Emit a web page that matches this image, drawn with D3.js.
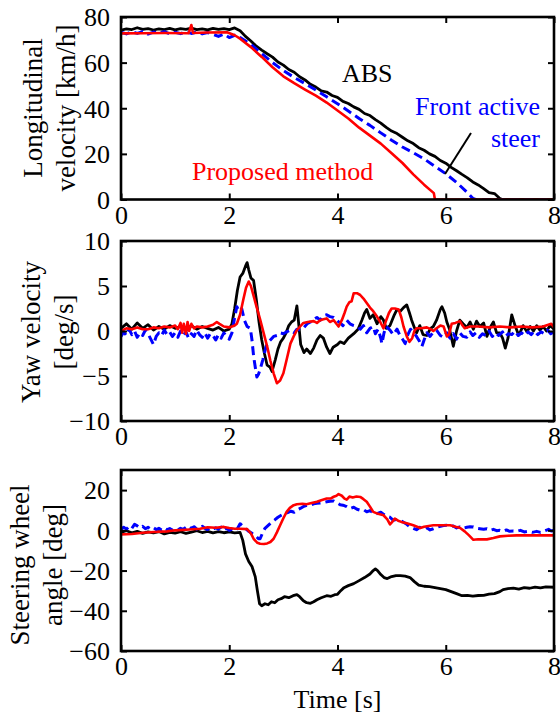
<!DOCTYPE html>
<html>
<head>
<meta charset="utf-8">
<script src="https://cdn.jsdelivr.net/npm/d3@7/dist/d3.min.js"></script>
<style>
  html, body { margin: 0; padding: 0; background: #fff; }
  svg { display: block; font-family: "Liberation Serif", "Times New Roman", serif; }
</style>
</head>
<body>
<svg id="chart" width="560" height="717"></svg>
<script>
// ---------------- DATA ----------------
const timeTicks = [0, 2, 4, 6, 8];
const velTicks = [0, 20, 40, 60, 80];
const yawTicks = [-10, -5, 0, 5, 10];
const steerTicks = [-60, -40, -20, 0, 20];

const seriesNames = ["ABS", "Front active steer", "Proposed method"];

// Longitudinal velocity [km/h]  ([t, v])
const velABS = [[0,74.2],[0.1,74.8],[0.2,74.5],[0.3,75.3],[0.4,74.6],[0.5,74.9],[0.6,74.3],[0.7,74.8],[0.8,74.5],[0.9,75.0],[1.0,74.4],[1.1,74.9],[1.2,74.6],[1.3,75.1],[1.4,74.5],[1.5,74.8],[1.6,74.4],[1.7,75.0],[1.8,74.6],[1.9,74.9],[2.0,74.5],[2.1,75.2],[2.2,74.0],[2.3,71.5],[2.4,69.5],[2.5,67.2],[2.6,65.5],[2.7,63.9],[2.8,62.4],[2.9,60.3],[3.0,58.9],[3.1,57.0],[3.2,55.8],[3.3,53.8],[3.4,52.4],[3.5,50.5],[3.6,49.3],[3.7,47.6],[3.8,47.1],[3.9,45.6],[4.0,44.8],[4.1,43.0],[4.2,42.1],[4.3,40.6],[4.4,39.5],[4.5,37.7],[4.6,36.8],[4.7,35.0],[4.8,33.5],[4.9,31.6],[5.0,30.0],[5.1,28.9],[5.2,27.3],[5.3,25.7],[5.4,24.5],[5.5,22.7],[5.6,21.6],[5.7,20.0],[5.8,18.9],[5.9,17.1],[6.0,15.9],[6.1,14.1],[6.2,12.6],[6.3,11.0],[6.4,9.5],[6.5,7.7],[6.6,6.4],[6.7,4.8],[6.8,3.0],[6.9,2.6],[7.0,0.4],[7.05,0],[8,0]];
const velFAS = [[0,73.3],[0.1,72.6],[0.2,73.5],[0.3,72.8],[0.4,73.6],[0.5,72.5],[0.6,73.4],[0.7,72.9],[0.8,73.6],[0.9,72.6],[1.0,73.3],[1.1,72.7],[1.2,73.5],[1.3,72.8],[1.4,73.4],[1.5,72.6],[1.6,73.2],[1.7,72.4],[1.8,71.5],[1.9,72.5],[2.0,71.0],[2.1,72.0],[2.2,71.0],[2.4,68.0],[2.6,64.0],[2.8,60.0],[3.0,56.5],[3.2,53.5],[3.4,50.8],[3.6,48.0],[3.8,45.0],[4.0,42.0],[4.2,38.8],[4.4,35.5],[4.6,32.5],[4.8,29.2],[5.0,26.0],[5.2,23.0],[5.4,20.5],[5.6,17.8],[5.8,14.5],[6.0,11.3],[6.2,7.5],[6.4,3.0],[6.5,0.5],[6.55,0],[8,0]];
const velProp = [[0,72.8],[0.4,72.9],[0.8,73.0],[1.25,72.9],[1.3,76.5],[1.33,73.0],[1.6,73.2],[1.96,73.3],[2.1,72.0],[2.2,70.5],[2.4,66.8],[2.6,62.5],[2.8,58.0],[3.0,54.0],[3.2,51.0],[3.4,48.2],[3.6,45.5],[3.8,42.5],[4.0,39.0],[4.2,35.5],[4.4,31.5],[4.6,28.0],[4.8,24.5],[5.0,20.3],[5.2,16.0],[5.4,11.0],[5.6,6.5],[5.78,2.8],[5.8,0],[8,0]];

// Yaw velocity [deg/s]
const yawABS = [[0,0.3],[0.1,0.8],[0.2,0.2],[0.3,0.9],[0.4,0.3],[0.5,0.7],[0.6,0.1],[0.7,0.5],[0.8,0.2],[0.9,0.6],[1.0,0.3],[1.1,0.5],[1.2,0.1],[1.3,0.6],[1.4,0.2],[1.5,0.5],[1.6,0.3],[1.7,0.1],[1.8,0.4],[1.9,0.0],[2.0,0.2],[2.05,0.8],[2.1,2.5],[2.15,4.5],[2.2,6.0],[2.25,6.4],[2.3,7.2],[2.33,7.6],[2.36,6.8],[2.4,5.9],[2.45,5.6],[2.5,3.5],[2.55,1.0],[2.6,-1.0],[2.65,-2.5],[2.7,-3.8],[2.75,-4.0],[2.79,-4.5],[2.85,-3.2],[2.9,-2.0],[2.95,-1.2],[3.0,-0.8],[3.05,-0.2],[3.1,0.6],[3.15,1.0],[3.2,1.2],[3.25,2.8],[3.28,1.0],[3.32,-1.5],[3.38,-2.4],[3.43,-2.0],[3.5,-2.5],[3.56,-1.9],[3.62,-1.0],[3.68,-0.5],[3.74,-0.8],[3.8,-1.8],[3.86,-2.5],[3.92,-1.8],[4.0,-1.5],[4.05,-1.2],[4.12,-1.4],[4.2,-0.8],[4.3,-0.3],[4.38,0.2],[4.45,1.2],[4.5,2.0],[4.54,2.4],[4.6,1.4],[4.66,1.8],[4.73,0.8],[4.8,1.6],[4.85,1.2],[4.9,0.3],[4.97,0.6],[5.05,1.8],[5.1,2.4],[5.16,2.2],[5.22,2.6],[5.28,2.9],[5.33,2.0],[5.37,1.2],[5.42,0.4],[5.46,-0.2],[5.52,0.6],[5.58,-0.4],[5.65,-0.5],[5.72,0.3],[5.77,0.5],[5.83,1.2],[5.9,2.4],[5.93,2.7],[5.98,2.0],[6.02,1.0],[6.07,0.2],[6.14,-1.7],[6.2,0.0],[6.26,1.2],[6.32,0.8],[6.39,0.4],[6.45,1.0],[6.51,0.2],[6.57,1.1],[6.63,0.5],[6.7,0.9],[6.76,-0.6],[6.82,0.4],[6.88,1.0],[6.94,-0.2],[7.0,-0.2],[7.05,-0.8],[7.1,-1.9],[7.15,-0.8],[7.22,1.8],[7.28,0.6],[7.33,-0.2],[7.37,-0.2],[7.43,0.6],[7.5,-0.1],[7.56,0.5],[7.62,0.0],[7.68,0.6],[7.74,0.1],[7.8,0.5],[7.86,0.0],[7.93,0.6],[8,0.2]];
const yawFAS = [[0,-0.6],[0.05,-0.1],[0.1,-0.5],[0.15,0.2],[0.2,-0.4],[0.25,0.0],[0.3,-0.7],[0.35,-0.2],[0.4,-0.5],[0.45,0.1],[0.5,-0.3],[0.55,-0.9],[0.6,-1.5],[0.65,-0.6],[0.7,-0.2],[0.75,-0.5],[0.8,0.1],[0.85,-0.4],[0.9,-0.1],[0.95,-0.6],[1.0,-0.2],[1.05,-0.7],[1.1,0.0],[1.15,-0.5],[1.2,-0.1],[1.25,-0.8],[1.3,-0.3],[1.35,-0.6],[1.4,0.1],[1.45,-0.4],[1.5,-0.7],[1.55,-0.2],[1.6,-0.8],[1.65,-0.3],[1.7,-0.5],[1.75,-1.0],[1.8,-0.4],[1.85,-0.8],[1.9,-0.2],[1.95,-0.6],[2.0,-0.9],[2.05,-0.2],[2.1,1.5],[2.14,2.7],[2.18,2.2],[2.23,2.5],[2.28,1.2],[2.33,0.5],[2.39,0.3],[2.42,-1.0],[2.45,-2.8],[2.48,-4.0],[2.51,-5.1],[2.54,-4.8],[2.57,-4.3],[2.62,-3.2],[2.66,-2.2],[2.7,-1.4],[2.76,-1.0],[2.82,-0.6],[2.88,-0.5],[2.94,-0.2],[3.0,-0.3],[3.06,-0.1],[3.13,0.1],[3.2,-0.2],[3.25,0.2],[3.31,0.1],[3.38,0.4],[3.44,0.8],[3.5,1.0],[3.56,1.3],[3.62,1.5],[3.68,1.2],[3.74,1.7],[3.8,1.8],[3.86,1.6],[3.93,1.5],[4.0,1.1],[4.05,0.9],[4.1,0.6],[4.17,1.2],[4.23,0.8],[4.3,0.6],[4.36,0.5],[4.42,0.2],[4.48,0.6],[4.54,-0.2],[4.6,0.3],[4.66,0.5],[4.7,-0.3],[4.75,0.2],[4.8,-0.8],[4.82,-1.4],[4.86,-0.2],[4.9,0.5],[4.97,0.1],[5.03,-0.4],[5.1,0.2],[5.16,-0.6],[5.2,-0.9],[5.25,-1.4],[5.3,-0.4],[5.35,0.2],[5.4,-0.1],[5.46,-0.6],[5.52,-1.2],[5.56,-1.7],[5.6,-1.0],[5.65,-0.2],[5.71,-0.6],[5.77,-0.1],[5.83,0.1],[5.9,-0.5],[5.96,-0.7],[6.02,-0.2],[6.08,-0.8],[6.14,-0.3],[6.2,-0.9],[6.26,-0.2],[6.32,-0.6],[6.39,-0.7],[6.45,-0.1],[6.5,-0.5],[6.56,-0.2],[6.62,-0.7],[6.68,-0.3],[6.74,-0.5],[6.8,0.0],[6.86,-0.6],[6.92,-0.2],[6.98,-0.5],[7.05,-0.1],[7.1,-0.6],[7.16,-0.3],[7.22,-0.4],[7.28,0.0],[7.34,-0.5],[7.4,-0.2],[7.46,-0.5],[7.52,-0.1],[7.58,-0.4],[7.64,0.0],[7.7,-0.4],[7.76,-0.1],[7.82,-0.3],[7.88,0.1],[7.94,-0.3],[8,-0.1]];
const yawProp = [[0,0],[0.1,0.3],[0.2,0.2],[0.3,0.4],[0.4,0.2],[0.5,0.2],[0.6,0.4],[0.7,0.3],[0.8,0.5],[0.9,0.4],[1.0,0.6],[1.05,0.2],[1.1,0.9],[1.13,-0.2],[1.16,0.8],[1.2,-0.3],[1.23,1.0],[1.26,0.0],[1.3,0.8],[1.35,0.3],[1.4,0.5],[1.5,0.4],[1.6,0.5],[1.7,0.7],[1.77,1.0],[1.82,0.8],[1.9,0.5],[2.0,0.4],[2.1,0.6],[2.14,0.8],[2.2,1.8],[2.26,3.5],[2.31,4.8],[2.36,5.5],[2.4,5.0],[2.45,3.9],[2.5,2.8],[2.57,1.3],[2.63,-0.1],[2.7,-1.7],[2.76,-3.3],[2.82,-4.7],[2.88,-5.8],[2.94,-5.5],[3.0,-4.7],[3.06,-3.2],[3.13,-1.4],[3.19,-0.6],[3.25,0.1],[3.31,0.5],[3.37,0.9],[3.45,1.0],[3.56,1.1],[3.62,0.9],[3.68,1.2],[3.74,1.3],[3.8,1.4],[3.86,1.0],[3.93,1.2],[3.98,0.8],[4.02,0.5],[4.08,1.2],[4.13,2.0],[4.17,2.7],[4.22,3.2],[4.26,3.3],[4.3,4.2],[4.36,4.2],[4.42,4.0],[4.48,3.6],[4.54,3.1],[4.6,2.6],[4.66,2.2],[4.73,1.6],[4.79,1.0],[4.85,0.3],[4.9,1.2],[4.95,2.0],[5.0,2.5],[5.06,2.5],[5.13,2.4],[5.18,1.5],[5.22,0.5],[5.28,-0.6],[5.33,-1.2],[5.38,-0.8],[5.42,0.0],[5.46,0.3],[5.55,0.3],[5.65,0.4],[5.72,0.2],[5.77,0.0],[5.83,0.3],[5.9,0.6],[5.96,0.5],[6.02,-0.6],[6.06,-0.4],[6.11,0.8],[6.18,0.9],[6.26,1.1],[6.3,0.7],[6.35,0.3],[6.45,0.5],[6.6,0.5],[6.8,0.4],[7.0,0.5],[7.2,0.4],[7.4,0.5],[7.6,0.4],[7.8,0.5],[7.95,0.8],[8,0.4]];

// Steering wheel angle [deg]
const steerABS = [[0,-1],[0.1,-0.2],[0.2,-1.2],[0.3,-0.5],[0.4,-1.5],[0.5,-0.8],[0.6,-1.3],[0.7,-0.6],[0.8,-1.8],[0.9,-1.0],[1.0,-1.4],[1.1,-0.7],[1.2,-1.5],[1.3,-0.9],[1.4,-0.2],[1.5,-1.1],[1.6,-0.5],[1.7,-1.3],[1.8,-0.7],[1.9,-1.2],[2.0,-0.8],[2.1,-1.3],[2.2,-1.0],[2.25,-5],[2.3,-11.7],[2.36,-15.5],[2.42,-18],[2.48,-23],[2.52,-30],[2.56,-36.5],[2.6,-37.5],[2.66,-36.5],[2.72,-37],[2.78,-35.5],[2.84,-36],[2.9,-34.5],[2.96,-34],[3.02,-33],[3.1,-33.5],[3.18,-32.5],[3.25,-32],[3.3,-33],[3.37,-35],[3.43,-36],[3.5,-36.3],[3.56,-35.5],[3.62,-34.5],[3.7,-33.5],[3.8,-32.5],[3.88,-32.8],[3.95,-32],[4.0,-31.8],[4.06,-30],[4.12,-28.5],[4.2,-27.5],[4.3,-26.5],[4.4,-25],[4.5,-23.5],[4.6,-21.7],[4.66,-20],[4.7,-19.2],[4.74,-20],[4.8,-22],[4.86,-23.5],[4.92,-24],[5.0,-23],[5.08,-22.5],[5.16,-22.5],[5.25,-22.8],[5.34,-23.5],[5.42,-25.5],[5.5,-27.2],[5.6,-27.8],[5.7,-28],[5.8,-28.5],[5.9,-29],[6.0,-29.5],[6.1,-30.5],[6.2,-31.5],[6.3,-32.5],[6.4,-32.3],[6.5,-32.7],[6.6,-32.4],[6.7,-32.3],[6.8,-31.7],[6.9,-31.5],[7.0,-30.5],[7.06,-29.5],[7.15,-29],[7.25,-28.7],[7.35,-29.2],[7.45,-28.5],[7.55,-28.8],[7.65,-28.2],[7.75,-28.6],[7.85,-28.1],[8,-28.3]];
const steerFAS = [[0,0.5],[0.05,1.5],[0.1,0.6],[0.15,2],[0.2,1.0],[0.25,3.0],[0.3,2.2],[0.35,1.2],[0.4,2.0],[0.45,0.8],[0.5,1.5],[0.55,0.6],[0.6,1.3],[0.65,0.4],[0.7,1.0],[0.75,0.2],[0.8,1.2],[0.85,0.3],[0.9,0.9],[0.95,0.0],[1.0,0.8],[1.05,0.2],[1.1,1.0],[1.15,0.5],[1.2,1.5],[1.25,2.2],[1.3,1.0],[1.35,1.8],[1.4,0.6],[1.45,1.5],[1.5,2.0],[1.55,1.0],[1.6,0.4],[1.65,1.2],[1.7,0.5],[1.75,1.3],[1.8,0.6],[1.85,1.6],[1.9,0.2],[1.95,1.0],[2.0,0.0],[2.05,0.5],[2.1,-0.3],[2.15,0.8],[2.2,3.3],[2.25,2.0],[2.3,1.0],[2.36,-0.5],[2.42,-1.5],[2.48,-2.5],[2.54,-4.2],[2.57,-4.2],[2.62,-1],[2.66,1.0],[2.72,2.5],[2.78,4.0],[2.84,5.2],[2.9,6.5],[2.96,7.5],[3.02,8.3],[3.08,8.8],[3.14,9.5],[3.2,9.0],[3.26,10.2],[3.32,11.0],[3.38,12.0],[3.44,12.5],[3.5,12.5],[3.56,13.2],[3.62,13.5],[3.68,13.6],[3.74,13.8],[3.8,14.2],[3.86,14.5],[3.93,14.6],[4.0,13.5],[4.05,12.7],[4.1,12.5],[4.17,11.8],[4.23,10.8],[4.3,11.5],[4.36,10.5],[4.42,10.0],[4.48,10.3],[4.54,9.2],[4.6,9.8],[4.66,8.8],[4.73,8.3],[4.8,9.0],[4.86,7.8],[4.91,7.0],[4.97,6.5],[5.03,5.0],[5.1,5.5],[5.16,5.0],[5.22,4.0],[5.28,3.0],[5.34,1.7],[5.4,1.0],[5.46,0.3],[5.52,1.5],[5.58,0.6],[5.65,1.3],[5.71,0.2],[5.77,0.8],[5.83,1.5],[5.9,2.0],[5.96,2.4],[6.02,2.5],[6.08,1.8],[6.14,2.2],[6.2,1.2],[6.26,1.7],[6.32,1.0],[6.39,1.5],[6.45,1.8],[6.51,1.7],[6.57,1.0],[6.63,0.8],[6.7,0.5],[6.76,0.8],[6.82,0.0],[6.88,0.5],[6.94,-0.2],[7.0,0.0],[7.06,-0.5],[7.12,0.2],[7.18,-0.5],[7.25,-0.3],[7.31,-0.5],[7.38,0.0],[7.45,-0.8],[7.52,-0.5],[7.6,-1.0],[7.68,-0.5],[7.75,-1.0],[7.82,-0.3],[7.9,0.5],[7.95,-0.3],[8,0]];
const steerProp = [[0,-2],[0.2,-1.8],[0.4,-1.2],[0.6,-0.8],[0.85,-0.5],[1.0,0.0],[1.2,0.3],[1.46,0.8],[1.6,1.5],[1.75,1.3],[1.9,1.7],[2.0,1.2],[2.1,0.8],[2.2,0.8],[2.33,0.6],[2.4,-1.5],[2.45,-4.2],[2.52,-6.2],[2.57,-6.7],[2.64,-6.8],[2.7,-6.5],[2.76,-5.8],[2.82,-4.2],[2.88,-1.0],[2.94,2.5],[3.0,6.0],[3.06,9.2],[3.12,11.2],[3.19,12.5],[3.25,13],[3.35,13.2],[3.43,13],[3.52,13.6],[3.62,14.2],[3.7,15],[3.8,15.8],[3.87,15.8],[3.93,16.7],[3.98,17.2],[4.02,18],[4.08,17.2],[4.13,15.8],[4.17,15.3],[4.22,16.8],[4.28,16.3],[4.35,16.8],[4.42,16.6],[4.48,15.5],[4.54,14.2],[4.6,11.8],[4.66,9.2],[4.75,8.2],[4.85,7.5],[4.92,5.5],[4.97,3],[5.02,4.5],[5.06,5.8],[5.12,4.8],[5.18,4.2],[5.28,3.5],[5.4,2.5],[5.53,1.2],[5.6,1.8],[5.77,2.5],[5.9,2.5],[6.08,2.5],[6.18,1.8],[6.26,1.3],[6.35,-0.5],[6.43,-2.5],[6.51,-4.7],[6.6,-4.4],[6.76,-4.5],[6.88,-3.8],[7.0,-3.0],[7.15,-2.7],[7.31,-2.5],[8,-2.5]];

// ---------------- LAYOUT / STYLE ----------------
const svg = d3.select("#chart");
const X0 = 121, X1 = 554;
const FONT = 26;
const FAMILY = '"Liberation Serif", "Times New Roman", serif';
const styles = {
  ABS:  { stroke: "#000000", width: 2.8, dash: null },
  FAS:  { stroke: "#0000ff", width: 3.0, dash: "9,5" },
  Prop: { stroke: "#ff0000", width: 2.6, dash: null }
};

const panels = [
  { top: 17, bottom: 199.5, domain: [0, 80], ticks: velTicks,
    label: ["Longitudinal", "velocity [km/h]"], labelX: [42, 75], labelY: 108,
    series: [[velABS, "ABS"], [velFAS, "FAS"], [velProp, "Prop"]] },
  { top: 241, bottom: 421, domain: [-10, 10], ticks: yawTicks,
    label: ["Yaw velocity", "[deg/s]"], labelX: [40, 73], labelY: 332,
    series: [[yawABS, "ABS"], [yawFAS, "FAS"], [yawProp, "Prop"]] },
  { top: 470, bottom: 651, domain: [-60, 30], ticks: steerTicks,
    label: ["Steering wheel", "angle [deg]"], labelX: [29, 62], labelY: 565,
    series: [[steerABS, "ABS"], [steerFAS, "FAS"], [steerProp, "Prop"]] }
];

const x = d3.scaleLinear().domain([0, 8]).range([X0, X1]);

panels.forEach((p, i) => {
  const y = d3.scaleLinear().domain(p.domain).range([p.bottom, p.top]);
  const g = svg.append("g");

  const clipId = "clip" + i;
  svg.append("clipPath").attr("id", clipId)
    .append("rect").attr("x", X0).attr("y", p.top).attr("width", X1 - X0).attr("height", p.bottom - p.top);

  const line = d3.line().x(d => x(d[0])).y(d => y(d[1]));
  const lg = g.append("g").attr("clip-path", `url(#${clipId})`);
  p.series.forEach(([data, key]) => {
    const s = styles[key];
    lg.append("path").datum(data)
      .attr("d", line)
      .attr("fill", "none")
      .attr("stroke", s.stroke)
      .attr("stroke-width", s.width)
      .attr("stroke-linejoin", "round")
      .attr("stroke-dasharray", s.dash);
  });

  const left = g.append("g").attr("transform", `translate(${X0},0)`)
    .call(d3.axisLeft(y).tickValues(p.ticks).tickSize(-6).tickPadding(11).tickFormat(d3.format("d")));
  const right = g.append("g").attr("transform", `translate(${X1},0)`)
    .call(d3.axisRight(y).tickValues(p.ticks).tickSize(-6).tickFormat(""));
  const bottom = g.append("g").attr("transform", `translate(0,${p.bottom})`)
    .call(d3.axisBottom(x).tickValues(timeTicks).tickSize(-6).tickPadding(6).tickFormat(d3.format("d")));
  const topA = g.append("g").attr("transform", `translate(0,${p.top})`)
    .call(d3.axisTop(x).tickValues(timeTicks).tickSize(-6).tickFormat(""));
  [left, right, bottom, topA].forEach(a => {
    a.attr("font-family", FAMILY).attr("font-size", FONT);
    a.select(".domain").remove();
    a.selectAll(".tick line").attr("stroke", "#000").attr("stroke-width", 2);
    a.selectAll(".tick text").attr("font-size", FONT).attr("font-family", FAMILY).attr("fill", "#000");
  });
  left.selectAll(".tick text").attr("dy", "0.34em");

  g.append("rect").attr("x", X0).attr("y", p.top).attr("width", X1 - X0).attr("height", p.bottom - p.top)
    .attr("fill", "none").attr("stroke", "#000").attr("stroke-width", 2.6);

  p.label.forEach((t, k) => {
    svg.append("text")
      .attr("transform", `translate(${p.labelX[k]},${p.labelY}) rotate(-90)`)
      .attr("text-anchor", "middle")
      .attr("font-family", FAMILY)
      .attr("font-size", 27)
      .attr("fill", "#000")
      .text(t);
  });
});

svg.append("text").attr("x", (X0 + X1) / 2).attr("y", 708)
  .attr("text-anchor", "middle").attr("font-family", FAMILY).attr("font-size", FONT).attr("fill", "#000").text("Time [s]");

const ann = svg.append("g").attr("font-size", FONT).attr("font-family", FAMILY);
ann.append("text").attr("x", 342).attr("y", 82).attr("fill", "#000").text(seriesNames[0]);
ann.append("text").attr("x", 540).attr("y", 115).attr("text-anchor", "end").attr("fill", "#0000ff").text("Front active");
ann.append("text").attr("x", 540).attr("y", 147).attr("text-anchor", "end").attr("fill", "#0000ff").text("steer");
ann.append("text").attr("x", 192).attr("y", 180).attr("fill", "#ff0000").text(seriesNames[2]);
svg.append("line").attr("x1", 471).attr("y1", 133).attr("x2", 445).attr("y2", 174)
  .attr("stroke", "#000").attr("stroke-width", 2);
</script>
</body>
</html>
